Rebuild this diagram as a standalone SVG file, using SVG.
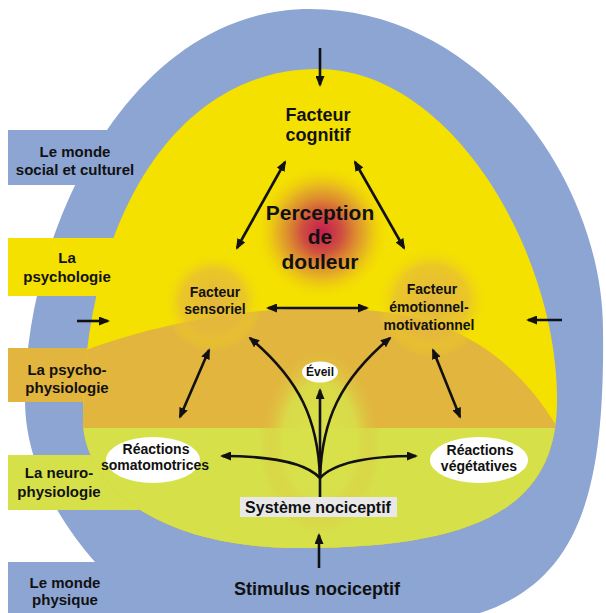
<svg xmlns="http://www.w3.org/2000/svg" width="606" height="613" viewBox="0 0 606 613">
<defs>
<style>
.t{font-family:"Liberation Sans",Arial,sans-serif;font-weight:bold;fill:#111;text-anchor:middle}
.lbl{font-size:15px}
.sm{font-size:14px}
.ar{fill:none;stroke:#111;stroke-width:2.6;marker-end:url(#ah)}
.dar{fill:none;stroke:#111;stroke-width:2.6;marker-end:url(#ah);marker-start:url(#ah)}
</style>
<marker id="ah" markerUnits="userSpaceOnUse" markerWidth="11" markerHeight="9" refX="9" refY="4.5" orient="auto-start-reverse">
<path d="M0,0 L11,4.5 L0,9 z" fill="#111"/>
</marker>
<clipPath id="inner">
<path d="M318,69 C450,69 557,250 557,400 C557,500 490,548 300,548 C150,548 83,480 83,420 C83,230 170,69 318,69 Z"/>
</clipPath>
<radialGradient id="gPer" cx="0.5" cy="0.5" r="0.5">
<stop offset="0" stop-color="#c41c50"/>
<stop offset="0.3" stop-color="#cf503f"/>
<stop offset="0.65" stop-color="#e0a030" stop-opacity="0.75"/>
<stop offset="1" stop-color="#f4e100" stop-opacity="0"/>
</radialGradient>
<radialGradient id="gFac" cx="0.5" cy="0.5" r="0.5">
<stop offset="0" stop-color="#e2b440" stop-opacity="0.95"/>
<stop offset="0.65" stop-color="#e6bc38" stop-opacity="0.7"/>
<stop offset="1" stop-color="#f4e100" stop-opacity="0"/>
</radialGradient>
<radialGradient id="gEv" cx="0.5" cy="0.5" r="0.5">
<stop offset="0" stop-color="#d8e24a"/>
<stop offset="0.6" stop-color="#d8e04a" stop-opacity="0.85"/>
<stop offset="1" stop-color="#e2b53e" stop-opacity="0"/>
</radialGradient>
</defs>

<g id="layers">
<path id="outer" d="M150,613 C80,560 25,480 25,400 C25,230 130,9 310,9 C480,9 603,180 603,330 C605,490 580,580 480,613 Z" fill="#8da5d3"/>
<rect x="8" y="130" width="120" height="55" fill="#8da5d3"/>
<rect x="8" y="562" width="150" height="51" fill="#8da5d3"/>
<rect x="8" y="238" width="125" height="58" fill="#f4e100"/>
<rect x="8" y="348" width="100" height="54" fill="#e2b53e"/>
<rect x="8" y="455" width="140" height="55" fill="#d6e14a"/>
<path d="M318,69 C450,69 557,250 557,400 C557,500 490,548 300,548 C150,548 83,480 83,420 C83,230 170,69 318,69 Z" fill="#f4e100"/>
<g clip-path="url(#inner)">
<path d="M60,360 C150,322 250,308 320,308 C420,308 500,330 560,432 L570,560 L60,560 Z" fill="#e2b53e"/>
<rect x="60" y="428" width="520" height="130" fill="#d6e14a"/>
<ellipse cx="320" cy="440" rx="62" ry="95" fill="url(#gEv)"/>
</g>
<circle cx="322" cy="232" r="68" fill="url(#gPer)"/>
<circle cx="213" cy="302" r="50" fill="url(#gFac)"/>
<circle cx="432" cy="302" r="56" fill="url(#gFac)"/>
</g>

<g id="labels">
<g id="monde-social"><text class="t lbl" x="75" y="157">Le monde</text><text class="t lbl" x="75" y="175">social et culturel</text></g>
<g id="psychologie"><text class="t lbl" x="67" y="263">La</text><text class="t lbl" x="67" y="282">psychologie</text></g>
<g id="psychophysiologie"><text class="t lbl" x="67" y="375">La psycho-</text><text class="t lbl" x="67" y="393">physiologie</text></g>
<g id="neurophysiologie"><text class="t lbl" x="59" y="478">La neuro-</text><text class="t lbl" x="59" y="497">physiologie</text></g>
<g id="monde-physique"><text class="t lbl" x="65" y="588">Le monde</text><text class="t lbl" x="65" y="605">physique</text></g>
</g>

<g id="nodes">
<g id="cognitif"><text class="t" style="font-size:18px" x="318" y="121">Facteur</text><text class="t" style="font-size:18px" x="318" y="141">cognitif</text></g>
<g id="perception"><text class="t" style="font-size:21px" x="320" y="220">Perception</text><text class="t" style="font-size:21px" x="320" y="244">de</text><text class="t" style="font-size:21px" x="320" y="269">douleur</text></g>
<g id="sensoriel"><text class="t sm" x="215" y="297">Facteur</text><text class="t sm" x="215" y="314">sensoriel</text></g>
<g id="emotionnel"><text class="t sm" x="432" y="294">Facteur</text><text class="t sm" x="429" y="312">émotionnel-</text><text class="t sm" x="429" y="330">motivationnel</text></g>
<g id="eveil"><ellipse cx="320" cy="372" rx="18" ry="10.5" fill="#fff"/><text class="t" style="font-size:12px" x="320" y="376">Éveil</text></g>
<g id="somatomotrices"><ellipse cx="153" cy="460" rx="47" ry="23" fill="#fff"/><text class="t sm" x="156" y="454">Réactions</text><text class="t sm" x="155" y="470">somatomotrices</text></g>
<g id="vegetatives"><ellipse cx="479" cy="460" rx="49" ry="23" fill="#fff"/><text class="t sm" x="480" y="455">Réactions</text><text class="t sm" x="479" y="471">végétatives</text></g>
<g id="systeme"><rect x="240" y="497" width="157" height="20" fill="#e8e8e8"/><text class="t" style="font-size:16px" x="318" y="513">Système nociceptif</text></g>
<g id="stimulus"><text class="t" style="font-size:18px" x="317" y="595">Stimulus nociceptif</text></g>
</g>

<g id="connectors">
<path class="ar" d="M320,48 L320,85"/>
<path class="ar" d="M77,321 L108,321"/>
<path class="ar" d="M562,320 L528,320"/>
<path class="ar" d="M319,568 L319,535"/>
<path class="dar" d="M285,162 L237,248"/>
<path class="dar" d="M355,162 L404,248"/>
<path class="dar" d="M268,308 L367,308"/>
<path class="dar" d="M209,350 L180,417"/>
<path class="dar" d="M433,350 L460,417"/>
<path class="ar" d="M320,497 L320,390"/>
<path class="ar" d="M320,478 C305,462 270,456 222,456"/>
<path class="ar" d="M320,478 C335,462 370,456 416,456"/>
<path class="ar" d="M320,478 C318,420 300,380 250,338"/>
<path class="ar" d="M320,478 C322,420 340,380 390,338"/>
</g>
</svg>
